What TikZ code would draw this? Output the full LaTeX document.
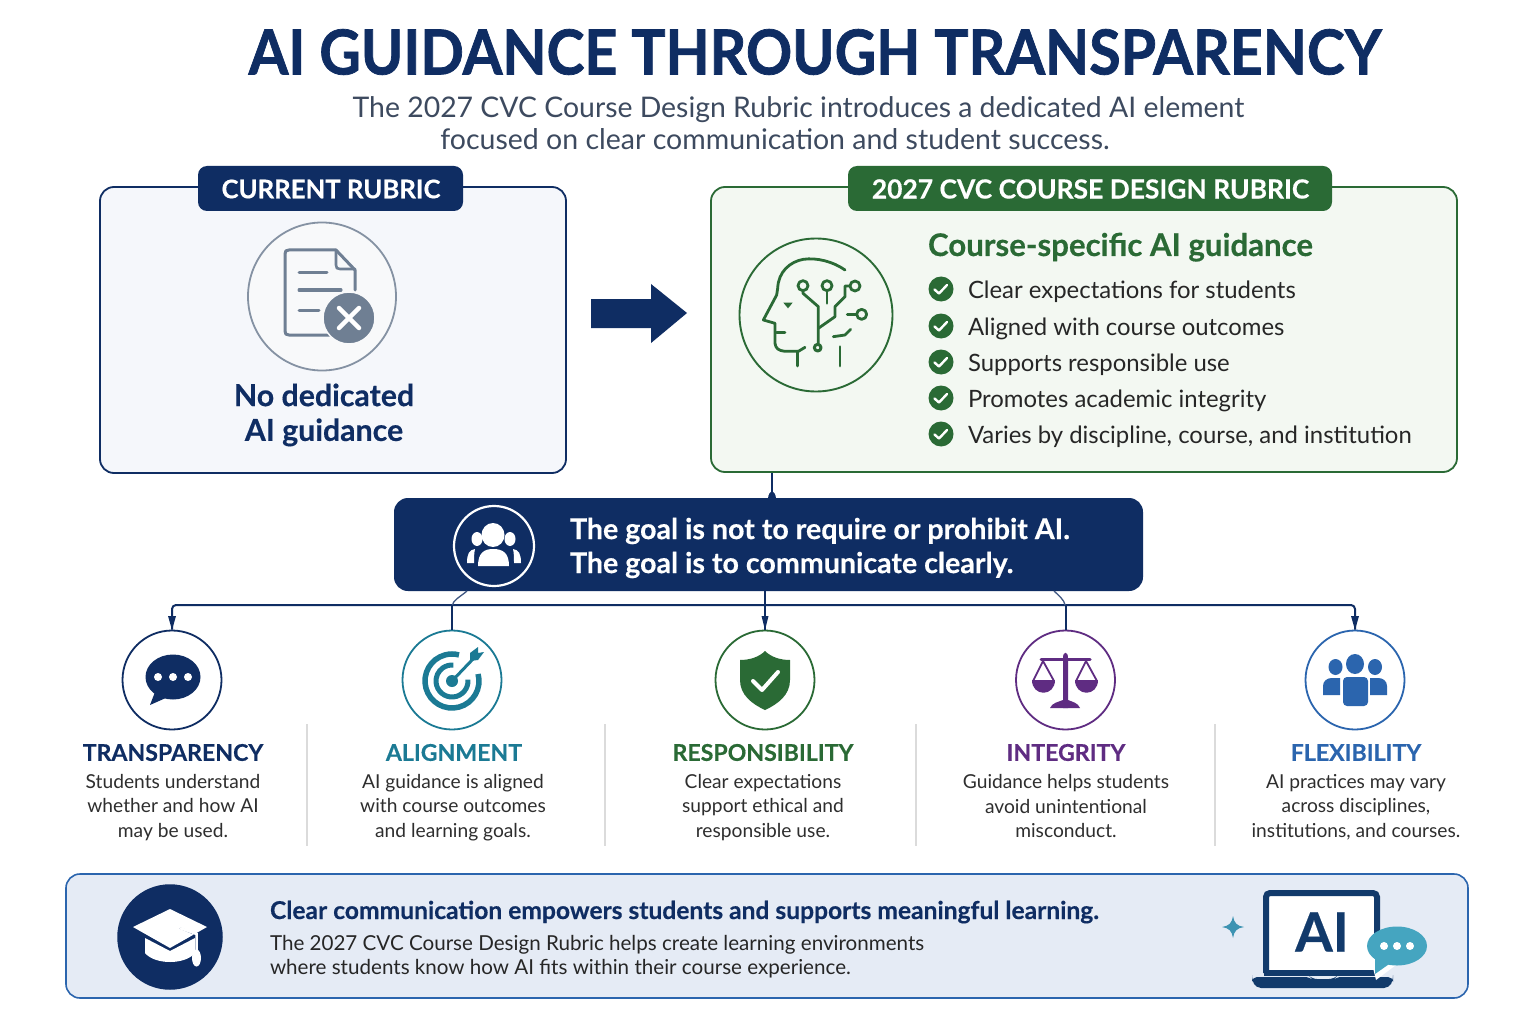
\documentclass[tikz,border=0pt]{standalone}
\usepackage{fontspec}
\setmainfont{Lato}[BoldFeatures={FakeBold=0.4}]
\newfontfamily\titlef{Lato}[BoldFeatures={FakeBold=1.2}]
\usetikzlibrary{arrows.meta}
\definecolor{navy}{HTML}{0F2D63}
\definecolor{grn}{HTML}{2A6A35}
\definecolor{teal2}{HTML}{1B7A94}
\definecolor{purp}{HTML}{5F2C82}
\definecolor{blu}{HTML}{2B65AE}
\definecolor{gry}{HTML}{6F7F93}
\definecolor{sky}{HTML}{45A5C0}
\definecolor{slate}{HTML}{3D4A5F}
\definecolor{lap}{HTML}{123A6B}
\tikzset{
  x=1pt,y=-1pt,
  lab/.style={inner sep=0pt,outer sep=0pt,align=center},
  panel/.style={rectangle,rounded corners=14pt,line width=1.8pt,inner sep=0pt},
  tagbox/.style={rectangle,rounded corners=9pt,inner sep=0pt},
  tagtext/.style={lab,text=white},
  ring/.style={circle,draw,fill=white,line width=1.8pt,minimum size=99pt,inner sep=0pt},
  conn/.style={draw=navy,line width=2pt,line join=round},
  thin conn/.style={draw=navy!80,line width=1.3pt},
  sep/.style={draw=black!14,line width=1.2pt},
  heading/.style={lab,font=\bfseries\fontsize{23.1}{23.1}\selectfont},
  desc/.style={lab,text=black!82,font=\fontsize{19.2}{24.4}\selectfont},
  item/.style={lab,anchor=base west,text=black!85,font=\fontsize{23.9}{23.9}\selectfont},
  chk/.style={circle,fill=grn,minimum size=25pt,inner sep=0pt},
}
\begin{document}
\begin{tikzpicture}
\useasboundingbox (0,0) rectangle (1536,1024);
\fill[white] (0,0) rectangle (1536,1024);

% title
\node[lab,text=navy,xscale=0.923,font=\titlef\bfseries\fontsize{62}{62}\selectfont] (title) at (815,52) {AI GUIDANCE THROUGH TRANSPARENCY};
\node[lab,text=slate,font=\fontsize{28.4}{32}\selectfont] (sub1) at (798.5,110) {The 2027 CVC Course Design Rubric introduces a dedicated AI element};
\node[lab,text=slate,font=\fontsize{28.5}{32}\selectfont] (sub2) at (775,139) {focused on clear communication and student success.};

% left panel
\node[panel,draw=navy,fill={rgb,255:red,245;green,247;blue,251},minimum width=466pt,minimum height=286pt] (cur) at (333,330) {};
\node[tagbox,fill=navy,minimum width=265pt,minimum height=45pt] (curtag) at (330.5,188.5) {};
\node[tagtext,font=\bfseries\fontsize{25.7}{25.7}\selectfont] at (331,189) {CURRENT RUBRIC};
\node[circle,draw=gry!85,fill=navy!3,line width=1.8pt,minimum size=148pt,inner sep=0pt] (doc) at (322,296.5) {};
\draw[gry,line width=3pt,line join=round,line cap=round] (342,335) -- (289,335) .. controls (286,335) and (285,334) .. (285,331) -- (285,254) .. controls (285,251) and (286,250) .. (289,250) -- (336,250) -- (355,270) -- (355,290);
\draw[gry,line width=2.6pt,line join=round,line cap=round] (336,250) -- (336,265) .. controls (336,268) and (337,269) .. (340,269) -- (355,269);
\draw[gry,line width=3pt,line cap=round] (299,273) -- (327,273) (299,290) -- (341,290) (299,310) -- (319,310);
\node[circle,fill=gry,draw=navy!3,line width=1.5pt,minimum size=52pt,inner sep=0pt] (xc) at (349,318) {};
\draw[white,line width=4.5pt,line cap=round] (339,308) -- (359,328) (359,308) -- (339,328);
\node[lab,text=navy,font=\bfseries\fontsize{30.3}{34.8}\selectfont] (nod) at (324,415) {No dedicated\\AI guidance};

% big arrow
\fill[navy] (591,299) -- (651,299) -- (651,284) -- (687,313) -- (651,343) -- (651,328) -- (591,328) -- cycle;

% right panel
\node[panel,draw=grn,fill={rgb,255:red,243;green,248;blue,242},minimum width=746pt,minimum height=285pt] (new) at (1084,329.5) {};
\node[tagbox,fill=grn,minimum width=484pt,minimum height=45pt] (newtag) at (1090,188.5) {};
\node[tagtext,font=\bfseries\fontsize{26.4}{26.4}\selectfont] at (1090.5,189) {2027 CVC COURSE DESIGN RUBRIC};
\node[circle,draw=grn,line width=1.9pt,minimum size=153pt,inner sep=0pt] (head) at (816,315) {};
\begin{scope}[shift={(710,160)},x=0.33333pt,y=-0.33333pt,draw=grn,line width=2.8pt,line cap=round,line join=round]
  \draw (405,330) .. controls (370,305) and (320,292) .. (280,298) .. controls (240,305) and (205,335) .. (203,385) -- (200,405) -- (160,480) -- (195,490) -- (195,550) .. controls (197,565) and (205,572) .. (225,574) -- (265,574) -- (285,562);
  \draw (200,518) -- (225,518);
  \draw (262,574) -- (262,618);
  \draw (390,560) -- (390,618);
  \fill[grn] (220,428) -- (248,428) -- (234,445) -- cycle;
  \draw (279,377) circle[radius=15];
  \draw (351,377) circle[radius=15];
  \draw (435,378) circle[radius=15];
  \draw (455,463) circle[radius=15];
  \draw (279,392) -- (279,400) -- (325,440) -- (325,552);
  \draw (351,392) -- (351,430);
  \draw (420,378) -- (405,378) -- (405,410) -- (375,440) -- (375,470) -- (325,505);
  \draw (440,463) -- (412,463);
  \draw (370,530) -- (405,525) -- (422,508);
  \draw[line width=3pt] (323,563) circle[radius=10];
\end{scope}
\node[lab,anchor=base west,text=grn,font=\bfseries\fontsize{31.2}{31.2}\selectfont] (spec) at (928,256) {Course-specific AI guidance};
\foreach \yy/\tx in {289/Clear expectations for students,326/Aligned with course outcomes,362/Supports responsible use,398/Promotes academic integrity,434/{Varies by discipline, course, and institution}}{
  \node[chk] (c\yy) at (941,\yy) {};
  \draw[white,line width=2.4pt,line cap=round,line join=round] (934.5,\yy) ++(0,0.5) -- ++(4.5,4) -- ++(8,-8.5);
  \path (968,\yy) ++(0,9.5) node[item] (t\yy) {\tx};
}

% goal bar
\node[rectangle,rounded corners=14pt,fill=navy,minimum width=749pt,minimum height=93pt,inner sep=0pt] (goal) at (768.5,544.5) {};
\node[circle,draw=white,line width=2.2pt,minimum size=80pt,inner sep=0pt] (gc) at (494,546) {};
\fill[white] (493,535) ellipse[x radius=11.5,y radius=12];
\fill[white] (477,539) ellipse[x radius=5.5,y radius=7];
\fill[white] (510,539) ellipse[x radius=5.5,y radius=7];
\fill[white] (478,566) .. controls (478,553) and (484,549) .. (493,549) .. controls (503,549) and (509,553) .. (509,566) -- cycle;
\fill[white] (467,563) .. controls (467,554) and (469,550) .. (475,549) .. controls (474,553) and (474,558) .. (474,563) -- cycle;
\fill[white] (521,563) .. controls (521,554) and (519,550) .. (513,549) .. controls (514,553) and (514,558) .. (514,563) -- cycle;
\node[lab,anchor=west,text=white,font=\bfseries\fontsize{28.6}{34}\selectfont,align=left] (goaltxt) at (570,548) {The goal is not to require or prohibit AI.\\The goal is to communicate clearly.};

% rings
\node[ring,draw=navy] (c1) at (172,680) {};
\node[ring,draw=teal2] (c2) at (452,680) {};
\node[ring,draw=grn] (c3) at (765,680) {};
\node[ring,draw=purp] (c4) at (1065.5,680) {};
\node[ring,draw=blu] (c5) at (1355,680) {};

% connectors
\coordinate (gin) at (772,498);
\draw[conn,line width=1.6pt] (new.south -| gin) -- (gin);
\fill[navy] (768,499) .. controls (768,494) and (770.5,492) .. (772,491) .. controls (773.5,492) and (776,494) .. (776,499) -- cycle;
\coordinate (busR) at (1355,605);
\draw[conn,rounded corners=4pt] (c1.north) |- (busR) -- (c5.north);
\draw[conn] (c3.north |- goal.south) -- (c3.north);
\fill[navy] (172,630) -- (168,616) -- (176,616) -- cycle;
\fill[navy] (765,630) -- (761.5,616) -- (768.5,616) -- cycle;
\fill[navy] (1355,630) -- (1351,616) -- (1359,616) -- cycle;
\draw[thin conn] (467,591) .. controls (460,597) and (453,600) .. (452,606);
\draw[conn] (452,605) -- (c2.north);
\draw[thin conn] (1054,591) .. controls (1058,595) and (1064,599) .. (1065.5,606);
\draw[conn] (1065.5,605) -- (c4.north);

% speech bubble
\fill[navy] (173,677) ellipse[x radius=27.5,y radius=22.5];
\fill[navy] (155,692) -- (150,705) -- (168,697) -- cycle;
\foreach \dx in {-15,0,15} \fill[white] (173+\dx,677) circle[radius=4pt];

% target
\begin{scope}[teal2]
  \draw[teal2,line width=5.5pt] (452,681) ++(-15:27) arc[start angle=-15,end angle=285,radius=27];
  \draw[teal2,line width=5pt] (452,681) ++(-5:16) arc[start angle=-5,end angle=275,radius=16];
  \fill (452,681) circle[radius=6pt];
  \draw[teal2,line width=3pt] (452,681) -- (473,659);
  \fill (470,661) -- (470,653) -- (478,647) -- (478,653) -- (484,652) -- (478,660) -- cycle;
\end{scope}

% shield
\fill[grn] (765,651) .. controls (771,657) and (780,660) .. (790,660) -- (790,680) .. controls (790,695) and (778,704) .. (765,710) .. controls (752,704) and (740,695) .. (740,680) -- (740,660) .. controls (750,660) and (759,657) .. (765,651) -- cycle;
\draw[white,line width=4pt,line cap=round,line join=round] (753,681) -- (762,690) -- (778,672);

% scales
\begin{scope}[purp]
  \fill (1063,708) -- (1063,658) .. controls (1063,651) and (1068,651) .. (1068,658) -- (1068,708) -- cycle;
  \fill (1050,708) .. controls (1052,703) and (1058,702) .. (1063,700) -- (1068,700) .. controls (1073,702) and (1078,703) .. (1080,708) -- cycle;
  \draw[purp,line width=3pt,line cap=round] (1041,659) -- (1090,659);
  \draw[purp,line width=1.8pt] (1033,681) -- (1043,661) -- (1054,681) (1076,681) -- (1086,661) -- (1097,681);
  \fill (1032,680) -- (1055,680) .. controls (1055,697) and (1032,697) .. (1032,680) -- cycle;
  \fill (1075,680) -- (1098,680) .. controls (1098,697) and (1075,697) .. (1075,680) -- cycle;
\end{scope}

% people
\begin{scope}[blu]
  \fill (1355,664) ellipse[x radius=9,y radius=10];
  \fill (1335.5,667) ellipse[x radius=7,y radius=8];
  \fill (1375,667) ellipse[x radius=7,y radius=8];
  \fill[rounded corners=4pt] (1343,706) -- (1343,677) -- (1368,677) -- (1368,706) -- cycle;
  \fill (1323,695) -- (1323,686) .. controls (1323,681) and (1327,678) .. (1332,678) -- (1340,678) -- (1340,695) -- cycle;
  \fill (1387,695) -- (1387,686) .. controls (1387,681) and (1383,678) .. (1378,678) -- (1370,678) -- (1370,695) -- cycle;
\end{scope}

% separators
\foreach \xx in {307,605,916,1215} \draw[sep] (\xx,724) -- (\xx,846);

% columns
\node[heading,text=navy] (h1) at (173,752.5) {TRANSPARENCY};
\node[heading,text=teal2] (h2) at (454,752.5) {ALIGNMENT};
\node[heading,text=grn] (h3) at (763,752.5) {RESPONSIBILITY};
\node[heading,text=purp] (h4) at (1066,752.5) {INTEGRITY};
\node[heading,text=blu] (h5) at (1356,752.5) {FLEXIBILITY};
\node[desc] (d1) at (173,807.5) {Students understand\\whether and how AI\\may be used.};
\node[desc] (d2) at (453,807.5) {AI guidance is aligned\\with course outcomes\\and learning goals.};
\node[desc] (d3) at (763,807.5) {Clear expectations\\support ethical and\\responsible use.};
\node[desc] (d4) at (1066,806) {Guidance helps students\\avoid unintentional\\misconduct.};
\node[desc] (d5) at (1356,807) {AI practices may vary\\across disciplines,\\institutions, and courses.};

% bottom panel
\node[rectangle,rounded corners=14pt,draw=blu,fill={rgb,255:red,229;green,235;blue,245},line width=1.6pt,minimum width=1402pt,minimum height=124pt,inner sep=0pt] (foot) at (767,936) {};
\node[circle,fill=navy,minimum size=105.5pt,inner sep=0pt] (capc) at (170,937) {};
\fill[white] (145,938) -- (170,951) -- (195,938) -- (195,953) .. controls (185,965) and (155,965) .. (145,953) -- cycle;
\fill[white] (133,927) -- (170,909) -- (207,927) -- (170,948) -- cycle;
\draw[navy,line width=1.5pt] (180,928) -- (197,935);
\draw[white,line width=2.5pt] (180,928) -- (196.5,934) -- (196.5,950);
\fill[white] (196.5,958) ellipse[x radius=4.5,y radius=8.5];
\node[lab,anchor=base west,text=navy,font=\bfseries\fontsize{24.6}{24.6}\selectfont] (ft1) at (270,919) {Clear communication empowers students and supports meaningful learning.};
\node[lab,anchor=west,align=left,text=black!85,font=\fontsize{20.6}{24}\selectfont] (ft2) at (270,957) {The 2027 CVC Course Design Rubric helps create learning environments\\where students know how AI fits within their course experience.};

% sparkle
\fill[sky!85!navy] (1233,916) .. controls (1234,923) and (1237,926) .. (1244,927) .. controls (1237,928) and (1234,931) .. (1233,938) .. controls (1232,931) and (1229,928) .. (1222,927) .. controls (1229,926) and (1232,923) .. (1233,916) -- cycle;

% laptop
\draw[draw=lap,fill=white,line width=6pt,rounded corners=4pt] (1266,973) -- (1266,893) -- (1377,893) -- (1377,973);
\draw[lap,line width=6pt] (1264,972.5) -- (1379,972.5);
\node[lab,text=lap,font=\bfseries\fontsize{54}{54}\selectfont] (ai) at (1322,932) {AI};
\fill[lap,rounded corners=5pt] (1252,977) -- (1310,977) -- (1312,979) -- (1334,979) -- (1336,977) -- (1393,977) -- (1393,980) -- (1389,988) -- (1256,988) -- (1252,980) -- cycle;
\fill[white] (1368,948) -- (1376,980) -- (1400,962) -- cycle;
\fill[sky] (1397,946) ellipse[x radius=30,y radius=19.5];
\fill[sky] (1375,955) -- (1375,974) -- (1392,962) -- cycle;
\foreach \dx in {-13,0,13} \fill[white] (1397+\dx,946) circle[radius=4pt];
\end{tikzpicture}
\end{document}
